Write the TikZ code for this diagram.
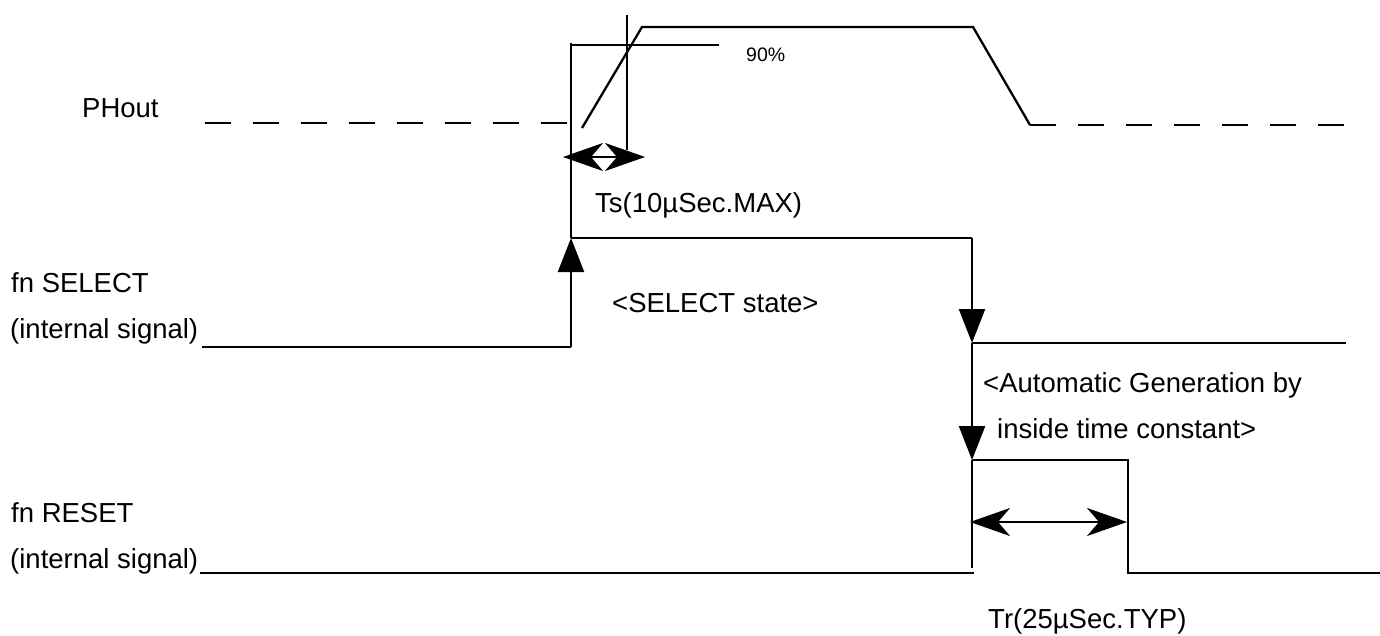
\documentclass[tikz,border=0pt]{standalone}
\usepackage{fontspec}
\setmainfont{Liberation Sans}
\usetikzlibrary{arrows.meta}
\begin{document}
\begin{tikzpicture}[x=1pt,y=-1pt,
  sig/.style={line width=2.3pt,line cap=butt},
  lbl/.style={anchor=base west,inner sep=0pt,font=\fontsize{27.5}{33}\selectfont},
  small/.style={anchor=base west,inner sep=0pt,font=\fontsize{19.5}{23}\selectfont},
  dsh/.style={sig,dash pattern=on 26pt off 22pt},
  tri/.style={-{Triangle[length=34pt,width=26pt]}},
  dimarr/.style={sig,{Stealth[length=40pt,width=28pt,inset=12pt]}-{Stealth[length=40pt,width=28pt,inset=12pt]}}
]
\useasboundingbox (0,0) rectangle (1380,635);
% coordinates
\coordinate (ph0) at (205,123);
\coordinate (ph1) at (567,123);
\coordinate (r0) at (582,128);
\coordinate (r1) at (642,27);
\coordinate (f0) at (973,27);
\coordinate (f1) at (1030,125);
\coordinate (ph2) at (1345,125);
\coordinate (v1t) at (571,43);
\coordinate (m90a) at (571,45);
\coordinate (m90b) at (719,45);
\coordinate (v2t) at (627,15);
\coordinate (v2b) at (627,150);
\coordinate (ts0) at (563,157);
\coordinate (ts1) at (645,157);
\coordinate (s0) at (202,347);
\coordinate (s1) at (571,347);
\coordinate (s2) at (571,238);
\coordinate (s3) at (972,238);
\coordinate (s4) at (972,343);
\coordinate (s5) at (1346,343);
\coordinate (s6) at (972,460);
\coordinate (s7) at (972,568);
\coordinate (q0) at (200,573);
\coordinate (q1) at (974,573);
\coordinate (q3) at (1128,460);
\coordinate (q4) at (1128,573);
\coordinate (q5) at (1380,573);
\coordinate (tr0) at (970,522);
\coordinate (tr1) at (1127,522);
% PHout
\draw[dsh] (ph0) -- (ph1);
\draw[sig] (r0) -- (r1) -- (f0) -- (f1);
\draw[dsh] (f1) -- (ph2);
\draw[sig] (m90a) -- (m90b);
\draw[sig] (v2t) -- (v2b);
\draw[dimarr] (ts0) -- (ts1);
% SELECT
\draw[sig] (s0) -- (s1);
\draw[sig,tri] (s1) -- (s2);
\draw[sig] (s2) -- (v1t);
\draw[sig] (s2) -- (s3);
\draw[sig,tri] (s3) -- (s4);
\draw[sig] (s4) -- (s5);
\draw[sig,tri] (s4) -- (s6);
\draw[sig] (s6) -- (s7);
% RESET
\draw[sig] (q0) -- (q1);
\draw[sig] (s6) -- (q3) -- (q4) -- (q5);
\draw[dimarr] (tr0) -- (tr1);
% labels
\node[lbl] (tph) at (82,117) {PHout};
\node[small] (t90) at (746,61) {90\%};
\node[lbl] (tts) at (595,212) {Ts(10µSec.MAX)};
\node[lbl] (tsel) at (11,292) {fn SELECT};
\node[lbl] (tsel2) at (10,338) {(internal signal)};
\node[lbl] (tst) at (612,312) {<SELECT state>};
\node[lbl] (tag1) at (983,392) {<Automatic Generation by};
\node[lbl] (tag2) at (997,438) {inside time constant>};
\node[lbl] (trs) at (11,522) {fn RESET};
\node[lbl] (trs2) at (10,568) {(internal signal)};
\node[lbl] (ttr) at (988,628) {Tr(25µSec.TYP)};
\end{tikzpicture}
\end{document}
